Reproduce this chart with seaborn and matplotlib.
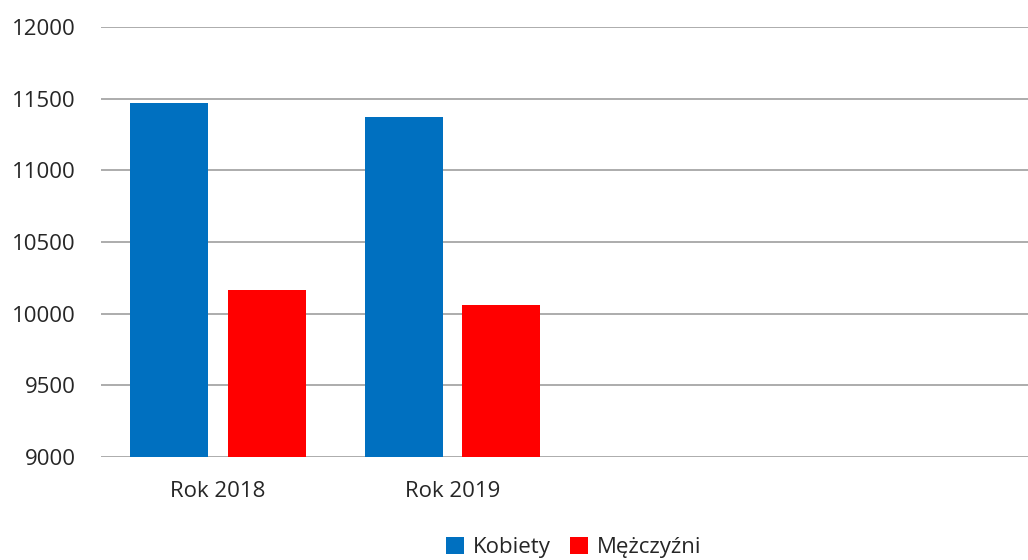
import matplotlib
matplotlib.use("Agg")
import matplotlib.pyplot as plt
import seaborn as sns
import pandas as pd

categories = ["Rok 2018", "Rok 2019"]
series_names = ["Kobiety", "Mężczyźni"]
kobiety = [11468, 11370]
mezczyzni = [10163, 10063]
y_ticks = [9000, 9500, 10000, 10500, 11000, 11500, 12000]
colors = ["#0070C0", "#FF0000"]

df = pd.DataFrame({
    "Rok": categories * 2,
    "Seria": [series_names[0]] * len(categories) + [series_names[1]] * len(categories),
    "Wartość": kobiety + mezczyzni,
})

sns.set_theme(style="white")
plt.rcParams["font.family"] = ["Open Sans", "DejaVu Sans"]
text_color = "#262626"

fig = plt.figure(figsize=(10.28, 5.6), dpi=100)
ax = fig.add_axes([0.098, 0.184, 0.9125, 0.768])

sns.barplot(data=df, x="Rok", y="Wartość", hue="Seria", order=categories,
            hue_order=series_names, palette=colors, width=0.83, gap=0.2,
            ax=ax, saturation=1, legend=True, edgecolor="none")

ax.set_xlim(-0.5, 3.5)
ax.set_ylim(9000, 12000)
ax.set_yticks(y_ticks)
ax.set_yticklabels([str(v) for v in y_ticks])
ax.yaxis.grid(True, color="#a6a6a6", linewidth=1.3)
ax.set_axisbelow(True)
for s in ax.spines.values():
    s.set_visible(False)
ax.set_xlabel("")
ax.set_ylabel("")
ax.tick_params(axis="y", length=0, pad=18, labelsize=16, labelcolor=text_color)
ax.tick_params(axis="x", length=0, pad=17, labelsize=16, labelcolor=text_color)

handles, labels = ax.get_legend_handles_labels()
ax.legend_.remove()
fig.legend(handles, labels, loc="center", bbox_to_anchor=(0.558, 0.023),
           ncol=2, frameon=False, fontsize=16, labelcolor=text_color,
           handlelength=0.8, handleheight=0.8, handletextpad=0.4,
           columnspacing=0.9)

fig.savefig("out.png", dpi=100)
